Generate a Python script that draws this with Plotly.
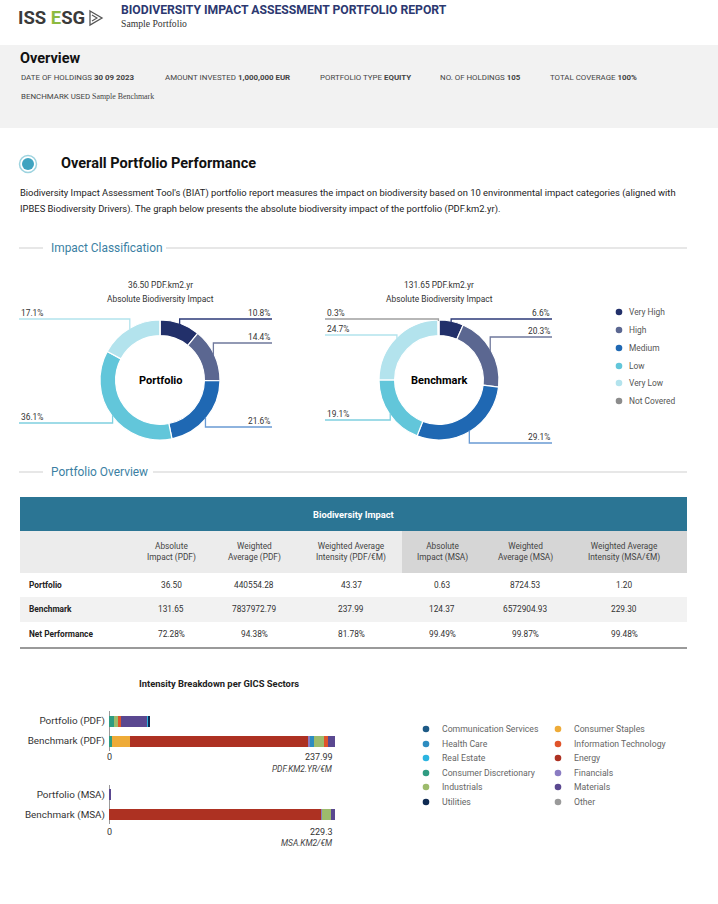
import math
import plotly.graph_objects as go

W, H = 718, 904

# ---------------- data ----------------
overview_labels = ["DATE OF HOLDINGS", "AMOUNT INVESTED", "PORTFOLIO TYPE", "NO. OF HOLDINGS", "TOTAL COVERAGE"]
overview_values = ["30 09 2023", "1,000,000 EUR", "EQUITY", "105", "100%"]
benchmark_used = "Sample Benchmark"

impact_classes = ["Very High", "High", "Medium", "Low", "Very Low", "Not Covered"]
portfolio_share = [10.8, 14.4, 21.6, 36.1, 17.1, 0.0]
benchmark_share = [6.6, 20.3, 29.1, 19.1, 24.7, 0.3]
portfolio_abs = "36.50"
benchmark_abs = "131.65"

table_headers = ["Absolute<br>Impact (PDF)", "Weighted<br>Average (PDF)", "Weighted Average<br>Intensity (PDF/€M)",
                 "Absolute<br>Impact (MSA)", "Weighted<br>Average (MSA)", "Weighted Average<br>Intensity (MSA/€M)"]
row_names = ["Portfolio", "Benchmark", "Net Performance"]
portfolio_row = ["36.50", "440554.28", "43.37", "0.63", "8724.53", "1.20"]
benchmark_row = ["131.65", "7837972.79", "237.99", "124.37", "6572904.93", "229.30"]
net_row = ["72.28%", "94.38%", "81.78%", "99.49%", "99.87%", "99.48%"]

sectors = ["Communication Services", "Consumer Discretionary", "Consumer Staples", "Energy", "Financials",
           "Health Care", "Industrials", "Information Technology", "Materials", "Real Estate", "Utilities", "Other"]
portfolio_pdf = [0, 4.9, 0, 0, 0, 0, 4.6, 3.5, 27.47, 1.1, 1.8, 0]
benchmark_pdf = [0, 3.5, 18.3, 187.8, 1.8, 4.5, 10.5, 4.2, 7.39, 0, 0, 0]
portfolio_msa = [0, 0, 0, 0, 0, 0, 0, 0, 1.20, 0, 0, 0]
benchmark_msa = [0, 0, 0, 215.5, 1.0, 0, 9.1, 0, 3.7, 0, 0, 0]
pdf_max = 237.99
msa_max = 229.3
bar_cats_pdf = ["Portfolio (PDF)", "Benchmark (PDF)"]
bar_cats_msa = ["Portfolio (MSA)", "Benchmark (MSA)"]

# ---------------- styles ----------------
FONT = "Roboto"
class_colors = ["#22306a", "#5b6791", "#1f68b3", "#62c6da", "#b3e3ed", "#8c8c8c"]
class_line_colors = ["#2c3a78", "#6f789c", "#6a9bd4", "#7fd0e0", "#b3e3ed", "#a0a0a0"]
sector_colors = {
    "Communication Services": "#1d5a86", "Consumer Discretionary": "#2f9c82", "Consumer Staples": "#eeab38",
    "Energy": "#ad3122", "Financials": "#8a7cc2", "Health Care": "#2d8cc0", "Industrials": "#9dbb6c",
    "Information Technology": "#e0542a", "Materials": "#5a4890", "Real Estate": "#2bb4e0",
    "Utilities": "#0e2a52", "Other": "#9a9a9a"}
legend_col1 = ["Communication Services", "Health Care", "Real Estate", "Consumer Discretionary", "Industrials", "Utilities"]
legend_col2 = ["Consumer Staples", "Information Technology", "Energy", "Financials", "Materials", "Other"]


def px(x):
    return x / W


def py(y):
    return 1 - y / H


annotations = []
shapes = []


def text(x, y, s, size=8, color="#333333", xanchor="left", family=FONT, yanchor="middle"):
    annotations.append(dict(x=px(x), y=py(y), xref="paper", yref="paper", text=s, showarrow=False,
                            xanchor=xanchor, yanchor=yanchor, font=dict(family=family, size=size, color=color)))


def rect(x0, y0, x1, y1, fill, line_color=None, lw=0):
    shapes.append(dict(type="rect", xref="paper", yref="paper", x0=px(x0), x1=px(x1), y0=py(y1), y1=py(y0),
                       fillcolor=fill, line=dict(color=line_color or fill, width=lw), layer="below"))


def hline(x0, x1, y, color="#cfcfcf", width=1):
    shapes.append(dict(type="line", xref="paper", yref="paper", x0=px(x0), x1=px(x1), y0=py(y), y1=py(y),
                       line=dict(color=color, width=width)))


def circle(cx, cy, r, fill, line_color=None, lw=0):
    shapes.append(dict(type="circle", xref="paper", yref="paper", x0=px(cx - r), x1=px(cx + r),
                       y0=py(cy + r), y1=py(cy - r), fillcolor=fill,
                       line=dict(color=line_color or fill, width=lw)))


fig = go.Figure()

# ---------------- header ----------------
text(16, 18, "<b>ISS <span style='color:#8dba3f'>E</span>SG</b>", size=18.5, color="#3a3a3a")
shapes.append(dict(type="path", xref="paper", yref="paper",
                   path=f"M {px(90)} {py(11)} L {px(102)} {py(18)} L {px(90)} {py(25)} Z",
                   line=dict(color="#555555", width=1.3), fillcolor="rgba(0,0,0,0)"))
shapes.append(dict(type="path", xref="paper", yref="paper",
                   path=f"M {px(92)} {py(15)} L {px(97)} {py(18)} L {px(92)} {py(21)}",
                   line=dict(color="#555555", width=1.1)))
text(119, 10, "<b>BIODIVERSITY IMPACT ASSESSMENT PORTFOLIO REPORT</b>", size=12.2, color="#2c3870")
text(119, 23, "Sample Portfolio", size=9.7, color="#333333", family="Liberation Serif")

# ---------------- overview band ----------------
rect(0, 45, 718, 128, "#f2f2f2")
text(18, 59, "<b>Overview</b>", size=14.5, color="#111111")
ov_x = [19, 163, 318, 438, 548]
for x, lab, val in zip(ov_x, overview_labels, overview_values):
    text(x, 78, f"{lab} <b>{val}</b>", size=7.9, color="#444444")
text(19, 97, "BENCHMARK USED <span style='font-family:Liberation Serif'>" + benchmark_used + "</span>",
     size=7.9, color="#444444")

# ---------------- section title ----------------
circle(28, 164, 8.5, "#ffffff", "#9dd3df", 1.5)
circle(28, 164, 6, "#3fa3c0")
text(59, 164, "<b>Overall Portfolio Performance</b>", size=14.5, color="#111111")
text(18, 193, "Biodiversity Impact Assessment Tool's (BIAT) portfolio report measures the impact on biodiversity "
              "based on 10 environmental impact categories (aligned with", size=9.4, color="#222222")
text(18, 209, "IPBES Biodiversity Drivers). The graph below presents the absolute biodiversity impact of the "
              "portfolio (PDF.km2.yr).", size=9.4, color="#222222")

hline(19, 43, 248)
text(49, 248, "Impact Classification", size=11.9, color="#3b7fa3")
hline(166, 687, 248)

# ---------------- donuts ----------------
R = 60
donuts = [
    dict(cx=160, cy=380, vals=portfolio_share, abs=portfolio_abs, name="Portfolio",
         line_y=[319, 343, 427, 423, 319, None], left_x=19, right_x=272),
    dict(cx=439, cy=380, vals=benchmark_share, abs=benchmark_abs, name="Benchmark",
         line_y=[319, 337, 443, 420, 335, 319], left_x=325, right_x=552),
]
for d in donuts:
    fig.add_trace(go.Pie(values=d["vals"], labels=impact_classes, hole=0.74, sort=False, direction="clockwise",
                         rotation=0, textinfo="none", hoverinfo="label+percent", showlegend=False,
                         marker=dict(colors=class_colors, line=dict(color="white", width=1.2)),
                         domain=dict(x=[px(d["cx"] - R), px(d["cx"] + R)], y=[py(d["cy"] + R), py(d["cy"] - R)])))
    text(d["cx"], 285, f"{d['abs']} PDF.km2.yr", size=8.4, color="#333333", xanchor="center")
    text(d["cx"], 299, "Absolute Biodiversity Impact", size=8.4, color="#333333", xanchor="center")
    text(d["cx"], d["cy"], f"<b>{d['name']}</b>", size=11, color="#000000", xanchor="center")
    total = sum(d["vals"])
    cum = 0
    for i, v in enumerate(d["vals"]):
        mid = cum + v / 2
        cum += v
        if v <= 0 or d["line_y"][i] is None:
            continue
        th = math.radians(90 - 360 * mid / total)
        ax = d["cx"] + (R - 1) * math.cos(th)
        ay = d["cy"] - (R - 1) * math.sin(th)
        ly = d["line_y"][i]
        if ax >= d["cx"]:
            ex = d["right_x"]
            text(ex, ly - 6, f"{v:.1f}%", size=8.4, color="#333333", xanchor="right")
        else:
            ex = d["left_x"]
            text(ex, ly - 6, f"{v:.1f}%", size=8.4, color="#333333", xanchor="left")
        shapes.append(dict(type="path", xref="paper", yref="paper",
                           path=f"M {px(ex)} {py(ly)} L {px(ax)} {py(ly)} L {px(ax)} {py(ay)}",
                           line=dict(color=class_line_colors[i], width=1.3)))

legend_y = [312, 330, 348, 366, 383, 401]
for lab, col, y in zip(impact_classes, class_colors, legend_y):
    circle(619, y, 3.3, col)
    text(627, y, lab, size=8.4, color="#555555")

# ---------------- table ----------------
hline(19, 43, 472)
text(49, 472, "Portfolio Overview", size=11.9, color="#3b7fa3")
hline(153, 687, 472)

rect(20, 497, 687, 531, "#2b7594")
text(353, 514, "<b>Biodiversity Impact</b>", size=9.3, color="#ffffff", xanchor="center")
rect(20, 531, 402, 573, "#ececec")
rect(402, 531, 687, 573, "#d6d6d6")
rect(20, 597, 687, 622, "#f2f2f2")
hline(20, 687, 648, color="#9a9a9a", width=2)
col_x = [171, 254, 351, 442, 525, 624]
for x, h in zip(col_x, table_headers):
    text(x, 552, h, size=8.3, color="#444444", xanchor="center")
row_y = [585, 609, 634]
for y, name, vals in zip(row_y, row_names, [portfolio_row, benchmark_row, net_row]):
    text(27, y, f"<b>{name}</b>", size=8.3, color="#222222")
    for x, v in zip(col_x, vals):
        text(x, y, v, size=8.3, color="#333333", xanchor="center")

# ---------------- bars ----------------
text(219, 683, "<b>Intensity Breakdown per GICS Sectors</b>", size=9.4, color="#222222", xanchor="center")
for s, pp, bp, pm, bm in zip(sectors, portfolio_pdf, benchmark_pdf, portfolio_msa, benchmark_msa):
    fig.add_trace(go.Bar(y=bar_cats_pdf, x=[pp, bp], orientation="h", name=s, showlegend=False,
                         marker=dict(color=sector_colors[s], line=dict(width=0)), xaxis="x", yaxis="y"))
    fig.add_trace(go.Bar(y=bar_cats_msa, x=[pm, bm], orientation="h", name=s, showlegend=False,
                         marker=dict(color=sector_colors[s], line=dict(width=0)), xaxis="x2", yaxis="y2"))

xdom = [px(109), px(335)]
axis_common = dict(showticklabels=False, showgrid=True, gridcolor="#e6e6e6", gridwidth=2,
                   zeroline=True, zerolinecolor="#9a9a9a", zerolinewidth=1, showline=False, fixedrange=True)
ycommon = dict(type="category", autorange="reversed", showgrid=False, zeroline=False, showline=False,
               ticks="", tickfont=dict(family=FONT, size=9.9, color="#333333"), ticklabelstandoff=3,
               fixedrange=True)

for val, unit, ty, uy, ref in [(pdf_max, "PDF.KM2.YR/€M", 757, 769, "x"), (msa_max, "MSA.KM2/€M", 832, 843, "x2")]:
    annotations.append(dict(x=0, y=py(ty), xref=ref, yref="paper", text="0", showarrow=False, xanchor="center",
                            yanchor="middle", font=dict(family=FONT, size=9, color="#333333")))
    annotations.append(dict(x=val, y=py(ty), xref=ref, yref="paper", text=f"{val}", showarrow=False,
                            xanchor="right", yanchor="middle", font=dict(family=FONT, size=9, color="#333333")))
    annotations.append(dict(x=val, y=py(uy), xref=ref, yref="paper", text=f"<i>{unit}</i>", showarrow=False,
                            xanchor="right", yanchor="middle", font=dict(family=FONT, size=8.4, color="#444444")))

for lab_list, lx in [(legend_col1, 426), (legend_col2, 558)]:
    for s, y in zip(lab_list, [729, 744, 758, 773, 787, 802]):
        circle(lx, y, 3.3, sector_colors[s])
        text(lx + 14, y, s, size=8.7, color="#666666")

fig.update_layout(
    width=W, height=H, margin=dict(l=0, r=0, t=0, b=0),
    paper_bgcolor="white", plot_bgcolor="white",
    barmode="stack", bargap=0.45,
    font=dict(family=FONT),
    xaxis=dict(domain=xdom, range=[0, pdf_max], tickvals=[pdf_max], anchor="y", **axis_common),
    yaxis=dict(domain=[py(751), py(711)], anchor="x", categoryarray=bar_cats_pdf, **ycommon),
    xaxis2=dict(domain=xdom, range=[0, msa_max], tickvals=[msa_max], anchor="y2", **axis_common),
    yaxis2=dict(domain=[py(824), py(785)], anchor="x2", categoryarray=bar_cats_msa, **ycommon),
    annotations=annotations, shapes=shapes,
)

fig.write_html("out.html", config={"displayModeBar": False},
               post_script="document.body.style.margin='0';document.body.style.overflow='hidden';")
